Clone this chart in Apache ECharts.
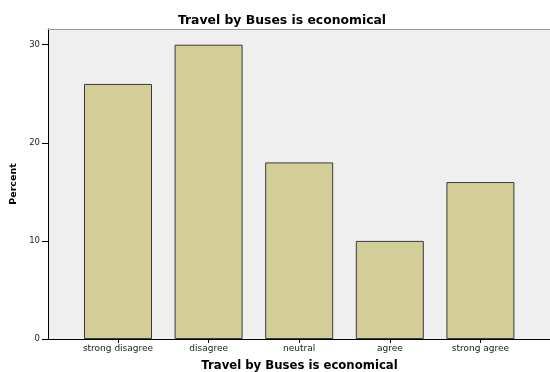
<!DOCTYPE html>
<html>
<head>
<meta charset="utf-8">
<script src="https://cdn.jsdelivr.net/npm/echarts@6/dist/echarts.min.js"></script>
<style>html,body{margin:0;padding:0;background:#fff;}#c{width:550px;height:372px;}</style>
</head>
<body>
<div id="c"></div>
<script>
const categories = ['strong disagree', 'disagree', 'neutral', 'agree', 'strong agree'];
const percentValues = [26, 30, 18, 10, 16];
const yTicks = [0, 10, 20, 30];
const titleText = 'Travel by Buses is economical';
const yAxisTitle = 'Percent';

const chart = echarts.init(document.getElementById('c'), null, {renderer: 'canvas'});
const font = '"DejaVu Sans", Arial, sans-serif';
const yMax = 31.6;
chart.setOption({
  animation: false,
  backgroundColor: '#ffffff',
  title: {
    text: titleText, left: 277, top: 10, textAlign: 'center',
    textStyle: {fontFamily: font, fontSize: 12.4, fontWeight: 'bold', color: '#000'}
  },
  grid: [
    {left: 48, top: 29, width: 503, height: 310, show: true, backgroundColor: '#efefef', borderWidth: 0, outerBoundsMode: 'none', containLabel: false},
    {left: 72.7, top: 29, width: 453, height: 310, outerBoundsMode: 'none', containLabel: false}
  ],
  xAxis: [
    {gridIndex: 0, type: 'value', min: 0, max: 1, axisLine: {show: true, onZero: false, lineStyle: {color: '#000', width: 1}},
     axisTick: {show: false}, axisLabel: {show: false}, splitLine: {show: false},
     name: titleText, nameLocation: 'middle', nameGap: 21,
     nameTextStyle: {fontFamily: font, fontSize: 11.7, fontWeight: 'bold', color: '#000'}},
    {gridIndex: 0, type: 'value', position: 'top', min: 0, max: 1, axisLine: {show: true, onZero: false, lineStyle: {color: '#999', width: 1}},
     axisTick: {show: false}, axisLabel: {show: false}, splitLine: {show: false}},
    {gridIndex: 1, type: 'category', data: categories, boundaryGap: true,
     axisLine: {show: false}, axisTick: {show: true, alignWithLabel: true, interval: 0, length: 4, lineStyle: {color: '#000'}},
     axisLabel: {fontFamily: font, fontSize: 9, color: '#222', margin: 5, interval: 0, hideOverlap: false}}
  ],
  yAxis: [
    {gridIndex: 0, type: 'value', min: 0, max: yMax,
     axisLine: {show: true, onZero: false, lineStyle: {color: '#000'}},
     axisTick: {show: true, length: 6, lineStyle: {color: '#000'}, customValues: yTicks},
     axisLabel: {fontFamily: font, fontSize: 8.5, color: '#222', margin: 8, customValues: yTicks},
     splitLine: {show: false},
     name: yAxisTitle, nameLocation: 'middle', nameGap: 28,
     nameTextStyle: {fontFamily: font, fontSize: 9.5, fontWeight: 'bold', color: '#000'}},
    {gridIndex: 1, type: 'value', min: 0, max: yMax, show: false}
  ],
  series: [{
    type: 'bar', xAxisIndex: 2, yAxisIndex: 1, data: percentValues, barWidth: 68,
    itemStyle: {color: '#d3ce97', borderColor: '#3a3a3a', borderWidth: 1}
  }]
});
</script>
</body>
</html>
